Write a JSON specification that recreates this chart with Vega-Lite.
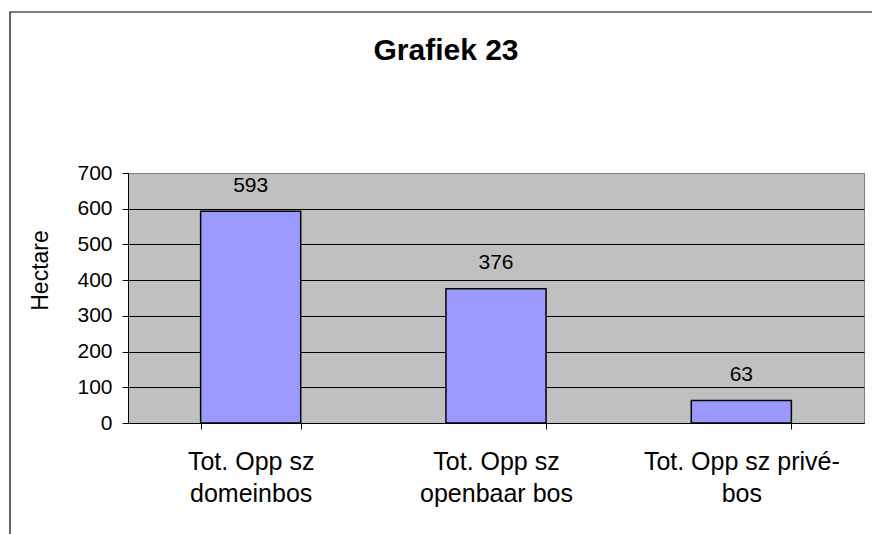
{
  "$schema": "https://vega.github.io/schema/vega-lite/v6.json",
  "autosize": {"type": "none"},
  "width": 736,
  "height": 250,
  "padding": {"left": 128, "top": 173, "right": 8, "bottom": 111},
  "background": "white",
  "config": {
    "font": "Liberation Sans",
    "view": {"fill": "#C0C0C0", "stroke": "#808080", "strokeWidth": 1}
  },
  "title": {
    "text": "Grafiek 23",
    "font": "Liberation Sans",
    "fontSize": 30,
    "fontWeight": "bold",
    "color": "black",
    "anchor": "middle",
    "frame": "group",
    "dx": -50,
    "baseline": "alphabetic",
    "offset": -79
  },
  "data": {
    "values": [
      {"categorie": "Tot. Opp sz domeinbos", "hectare": 593},
      {"categorie": "Tot. Opp sz openbaar bos", "hectare": 376},
      {"categorie": "Tot. Opp sz privé-bos", "hectare": 63}
    ]
  },
  "encoding": {
    "x": {
      "field": "categorie",
      "type": "nominal",
      "sort": null,
      "scale": {"paddingInner": 0.592, "paddingOuter": 0.296},
      "axis": {
        "title": null,
        "labelAngle": 0,
        "labelFont": "Liberation Sans",
        "labelFontSize": 25,
        "labelColor": "black",
        "labelLineHeight": 32,
        "labelPadding": 20,
        "labelLimit": 0,
        "labelExpr": "(!isValid(datum.value) || datum.label == '') ? '' : (datum.value == 'Tot. Opp sz privé-bos' ? ['Tot. Opp sz privé-', 'bos'] : ['Tot. Opp sz', replace(datum.value, 'Tot. Opp sz ', '')])",
        "tickBand": "extent",
        "tickSize": 6,
        "tickColor": "black",
        "domainColor": "black",
        "grid": false
      }
    },
    "y": {
      "field": "hectare",
      "type": "quantitative",
      "scale": {"domain": [0, 700], "nice": false},
      "axis": {
        "title": "Hectare",
        "titleFont": "Liberation Sans",
        "titleFontSize": 23,
        "titleFontWeight": "normal",
        "titleColor": "black",
        "titleAngle": -90,
        "titleBaseline": "alphabetic",
        "titleAlign": "center",
        "titleX": -81,
        "titleY": 97,
        "values": [0, 100, 200, 300, 400, 500, 600, 700],
        "labelFont": "Liberation Sans",
        "labelFontSize": 21,
        "labelColor": "black",
        "labelPadding": 10,
        "tickSize": 6,
        "tickColor": "black",
        "domainColor": "black",
        "grid": true,
        "gridColor": {"condition": {"test": "datum.value == 700", "value": "#808080"}, "value": "black"},
        "gridOpacity": 1,
        "gridWidth": 1
      }
    }
  },
  "layer": [
    {
      "data": {"values": [{}]},
      "mark": {"type": "rect", "fill": "transparent", "stroke": "black", "strokeWidth": 1.2},
      "encoding": {
        "x": {"value": -118},
        "x2": {"value": 800},
        "y": {"value": -161},
        "y2": {"value": 500}
      }
    },
    {
      "mark": {"type": "bar", "fill": "#9999FF", "stroke": "black", "strokeWidth": 1.5}
    },
    {
      "mark": {"type": "text", "font": "Liberation Sans", "fontSize": 21, "color": "black", "baseline": "alphabetic", "dy": -19.5},
      "encoding": {"text": {"field": "hectare", "type": "quantitative"}}
    }
  ]
}
